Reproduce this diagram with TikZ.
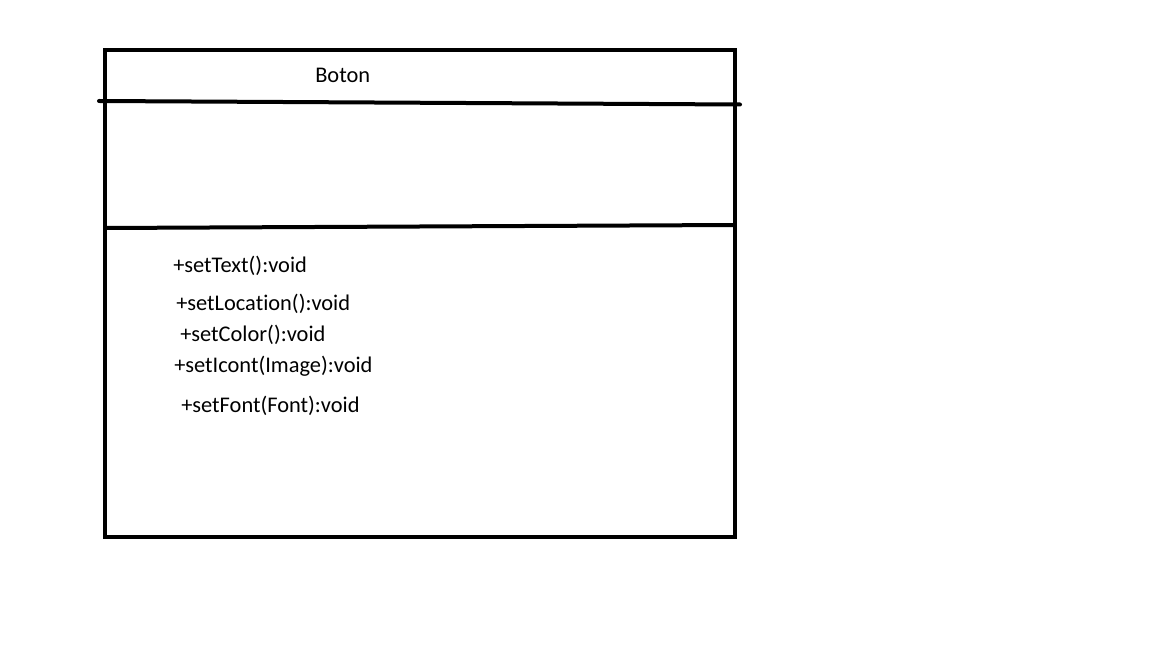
\documentclass[tikz,border=0pt]{standalone}
\usepackage{fontspec}
\setmainfont[Ligatures={NoCommon}]{Carlito}
\begin{document}
\begin{tikzpicture}[x=0.75pt,y=-0.75pt,
  edge/.style={line width=3pt},
  member/.style={anchor=base west,inner sep=0pt,font=\fontsize{16.8}{19}\selectfont}]
\useasboundingbox (0,0) rectangle (1152,648);
\fill[white] (0,0) rectangle (1152,648);
\draw[edge] (105,50) rectangle (735,537);
\draw[edge,line cap=round] (99,101) -- (740,104.5);
\draw[edge] (105,228) -- (735,225);
\node[member] (name) at (315,83) {Boton};
\node[member] (m1) at (173,273) {+setText():void};
\node[member] (m2) at (176,311) {+setLocation():void};
\node[member] (m3) at (180,342) {+setColor():void};
\node[member] (m4) at (174,373) {+setIcont(Image):void};
\node[member] (m5) at (181,412) {+setFont(Font):void};
\end{tikzpicture}
\end{document}
